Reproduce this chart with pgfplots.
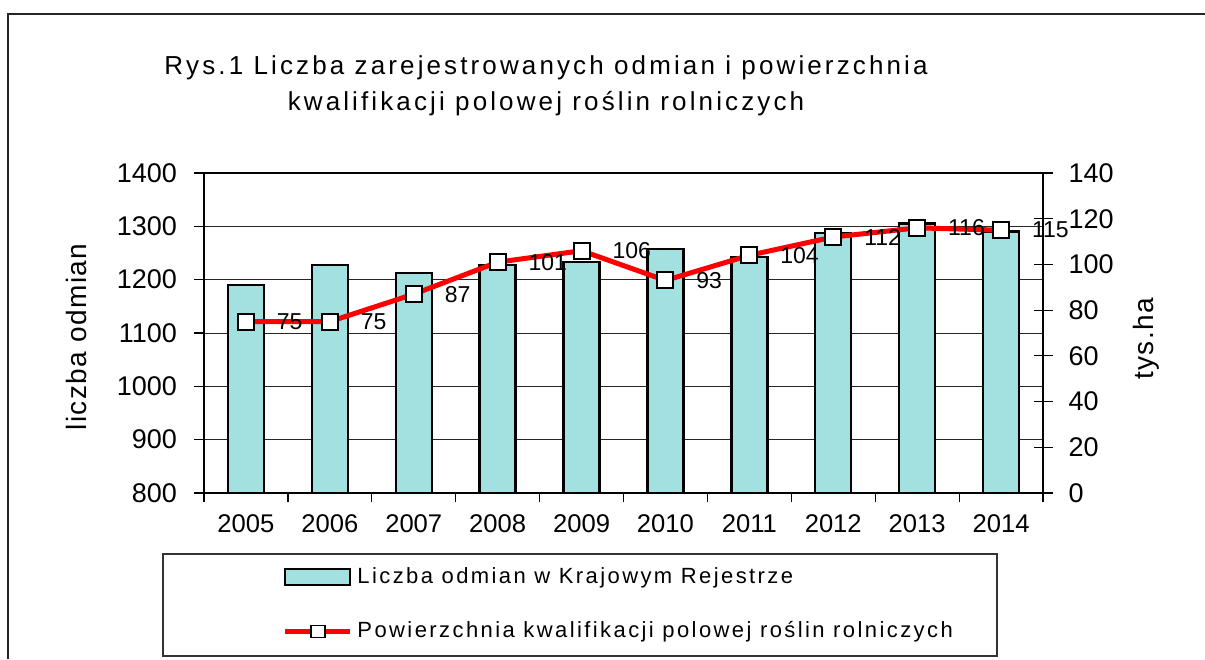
\documentclass[border=0pt]{standalone}
\usepackage{fontspec}
\setmainfont{Liberation Sans}
\newfontfamily\titlefont[LetterSpace=12]{Liberation Sans}
\newfontfamily\legfont[LetterSpace=11]{Liberation Sans}
\newfontfamily\labfont[LetterSpace=5]{Liberation Sans}
\usepackage{pgfplots}
\pgfplotsset{compat=1.18}
\definecolor{barcol}{RGB}{163,224,224}

\begin{document}
\begin{tikzpicture}
\useasboundingbox (0pt,0pt) rectangle (602.5pt,-329.5pt);
% outer frame
\draw[line width=1pt, black!85] (3.75pt,-329.5pt) -- (3.75pt,-7pt) -- (602.5pt,-7pt);

% title
\node[anchor=base, font=\titlefont\fontsize{13}{15}\selectfont] at (273pt,-37pt)
  {Rys.1 Liczba zarejestrowanych odmian i powierzchnia};
\node[anchor=base, font=\titlefont\fontsize{13}{15}\selectfont] at (273pt,-55pt)
  {kwalifikacji polowej roślin rolniczych};

% axis titles
\node[rotate=90, font=\labfont\fontsize{14}{16}\selectfont] at (38pt,-168.5pt) {liczba odmian};
\node[rotate=90, font=\labfont\fontsize{14}{16}\selectfont] at (573pt,-169.5pt) {tys.ha};

% legend frame
\draw[line width=0.6pt, black!80] (81.5pt,-277pt) rectangle (498.5pt,-328pt);

% bars: liczba odmian
\begin{axis}[
  at={(102pt,-246.5pt)}, anchor=south west,
  width=419.5pt, height=160pt, scale only axis,
  xmin=-0.5, xmax=9.5,
  ymin=800, ymax=1400,
  ytick={800,900,...,1400},
  xtick={0,...,9},
  xticklabels={2005,2006,2007,2008,2009,2010,2011,2012,2013,2014},
  minor xtick={-0.5,0.5,...,9.5},
  major x tick style={draw=none},
  xtick pos=bottom, ytick pos=left,
  tick align=outside,
  major tick length=5pt, minor tick length=4.5pt,
  tick style={black, line width=0.6pt},
  ymajorgrids,
  major grid style={black!85, line width=0.5pt},
  axis line style={black, line width=0.6pt},
  /pgf/number format/assume math mode=true,
  /pgf/number format/1000 sep={},
  yticklabel style={font=\fontsize{13.5}{15}\selectfont, xshift=-5pt},
  xticklabel style={font=\fontsize{12.8}{15}\selectfont, yshift=-2.5pt},
]
\addplot[ybar, bar width=18pt, fill=barcol, draw=black, line width=1.2pt]
  coordinates {(0,1190) (1,1228) (2,1212) (3,1227) (4,1233)
               (5,1257) (6,1242) (7,1288) (8,1305) (9,1290)};
\end{axis}

% line: powierzchnia kwalifikacji
\begin{axis}[
  at={(102pt,-246.5pt)}, anchor=south west,
  width=419.5pt, height=160pt, scale only axis,
  xmin=-0.5, xmax=9.5,
  ymin=0, ymax=140,
  ytick={0,20,...,140},
  axis x line=none, axis y line*=right,
  ytick align=center, major tick length=9.5pt,
  tick style={black, line width=0.6pt},
  axis line style={black, line width=0.6pt},
  clip=false,
  /pgf/number format/assume math mode=true,
  yticklabel style={font=\fontsize{13.5}{15}\selectfont, xshift=4.5pt},
  legend style={at={(0.093,-0.2246)}, anchor=north west, draw=none, fill=none,
    inner sep=0pt, row sep=15pt, column sep=2.5pt,
    nodes={inner sep=0pt, text height=9pt, text depth=3pt},
    font=\legfont\fontsize{11}{13}\selectfont},
  legend cell align=left,
]
\addlegendimage{legend image code/.code={
  \draw[fill=barcol, draw=black, line width=1.2pt] (0pt,-4pt) rectangle (32.5pt,4pt);}}
\addlegendentry{Liczba odmian w Krajowym Rejestrze}
\addlegendimage{legend image code/.code={
  \draw[red, line width=2.5pt] (0pt,0pt) -- (32.5pt,0pt);
  \draw[black, fill=white, line width=0.6pt] (13pt,-3pt) rectangle (20pt,3pt);}}
\addlegendentry{Powierzchnia kwalifikacji polowej roślin rolniczych}
\addplot[red, line width=2.5pt, mark=square*, mark size=4pt,
  mark options={fill=white, draw=black, line width=1pt},
  nodes near coords,
  every node near coord/.append style={anchor=west, xshift=15pt, inner sep=0pt,
    text=black, font=\fontsize{11.5}{13}\selectfont},
  forget plot]
  coordinates {(0,75) (1,75) (2,87) (3,101) (4,106)
               (5,93) (6,104) (7,112) (8,116) (9,115)};
\end{axis}
\end{tikzpicture}
\end{document}
